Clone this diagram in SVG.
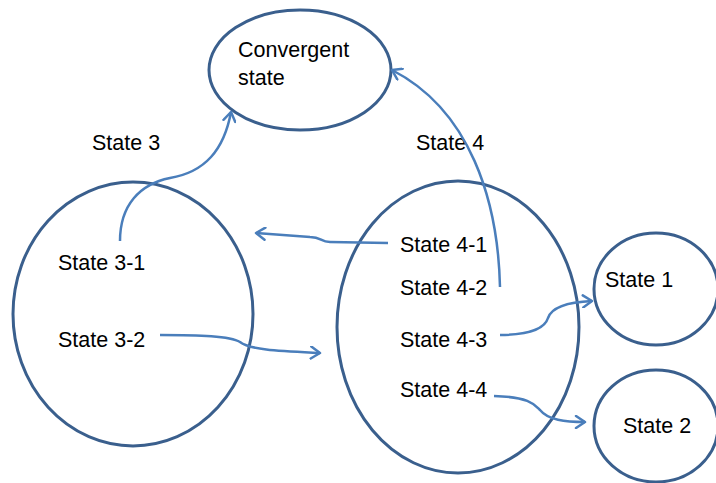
<svg xmlns="http://www.w3.org/2000/svg" width="716" height="483" viewBox="0 0 716 483">
<style>
.node{fill:#ffffff;stroke:#3a5f8d;stroke-width:3}
.lbl{font-family:"Liberation Sans",Arial,sans-serif;font-size:21.5px;fill:#000}
.conn{fill:none;stroke:#4a7ebb;stroke-width:2.5}
</style>
<defs>
<marker id="arr" markerWidth="14" markerHeight="14" refX="11" refY="7" orient="auto" markerUnits="userSpaceOnUse">
<polyline points="2,1 11,7 2,13" fill="none" stroke="#4a7ebb" stroke-width="2.5" stroke-linecap="round" stroke-linejoin="round"/>
</marker>
</defs>
<rect width="716" height="483" fill="#ffffff"/>
<g id="convergent">
<ellipse class="node" cx="300" cy="70" rx="91" ry="60"/>
<text class="lbl" x="238" y="57">Convergent</text>
<text class="lbl" x="238" y="85">state</text>
</g>
<g id="state3">
<ellipse class="node" cx="133" cy="314" rx="120" ry="132"/>
<text class="lbl" x="92" y="150">State 3</text>
<text class="lbl" x="58" y="270">State 3-1</text>
<text class="lbl" x="58" y="347">State 3-2</text>
</g>
<g id="state4">
<ellipse class="node" cx="458" cy="327" rx="121" ry="146"/>
<text class="lbl" x="416" y="150">State 4</text>
<text class="lbl" x="400" y="252">State 4-1</text>
<text class="lbl" x="400" y="295">State 4-2</text>
<text class="lbl" x="400" y="347">State 4-3</text>
<text class="lbl" x="400" y="397">State 4-4</text>
</g>
<g id="state1">
<ellipse class="node" cx="656" cy="289" rx="62" ry="56"/>
<text class="lbl" x="605" y="287">State 1</text>
</g>
<g id="state2">
<ellipse class="node" cx="656" cy="426" rx="62" ry="56"/>
<text class="lbl" x="623" y="433">State 2</text>
</g>
<g id="connectors">
<path class="conn" d="M120,241 C120,205 140,184 170,178 C205,172 224,150 231,112" marker-end="url(#arr)"/>
<path class="conn" d="M500,287 C498,200 470,110 392,70" marker-end="url(#arr)"/>
<path class="conn" d="M388,243 L330,242 C320,242 322,237 310,237 L256,233" marker-end="url(#arr)"/>
<path class="conn" d="M160,335 C200,335 230,336 240,342 C250,350 280,351 320,353" marker-end="url(#arr)"/>
<path class="conn" d="M500,335 C530,335 545,328 548,318 C552,306 570,302 592,301" marker-end="url(#arr)"/>
<path class="conn" d="M494,396 C530,397 535,405 540,410 C548,420 565,422 585,422" marker-end="url(#arr)"/>
</g>
</svg>
